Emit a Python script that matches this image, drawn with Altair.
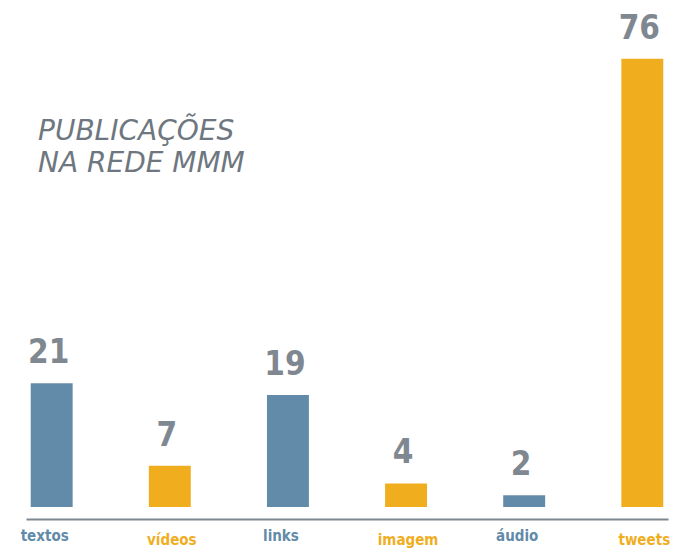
import json
import altair as alt
import pandas as pd

categories = ["textos", "vídeos", "links", "imagem", "áudio", "tweets"]
values = [21, 7, 19, 4, 2, 76]
groups = ["azul", "laranja", "azul", "laranja", "azul", "laranja"]
title_lines = ["PUBLICAÇÕES", "NA REDE MMM"]

BLUE = "#628aa9"
ORANGE = "#f0ae1f"
GRAY = "#7f8891"
TITLE_GRAY = "#6e7780"
COND_FONT = "DejaVu Sans Condensed, sans-serif"

df = pd.DataFrame({"cat": categories, "v": values, "g": groups})
orange_cats = [c for c, g in zip(categories, groups) if g == "laranja"]
test = "indexof(" + json.dumps(orange_cats, ensure_ascii=False) + ", datum.value) >= 0"

x = alt.X(
    "cat:N",
    sort=categories,
    scale=alt.Scale(paddingInner=0.645, paddingOuter=0.04),
    axis=alt.Axis(
        title=None,
        domainColor=GRAY,
        domainWidth=2,
        ticks=False,
        tickSize=0,
        labelAngle=0,
        labelFont=COND_FONT,
        labelFontSize=15,
        labelFontWeight="bold",
        labelColor={"condition": {"test": test, "value": ORANGE}, "value": BLUE},
        labelBaseline="alphabetic",
        labelPadding={"condition": {"test": test, "value": 25}, "value": 21},
        labelOffset={"condition": {"test": test, "value": 2}, "value": -7},
        offset=12,
    ),
)
y = alt.Y("v:Q", scale=alt.Scale(domain=[0, 84.6]), axis=None)

base = alt.Chart(df).encode(x=x, y=y)

bars = base.mark_bar().encode(
    color=alt.Color(
        "g:N",
        scale=alt.Scale(domain=["azul", "laranja"], range=[BLUE, ORANGE]),
        legend=None,
    )
)

nums = base.mark_text(
    dy=-20,
    dx=-3,
    baseline="alphabetic",
    font=COND_FONT,
    fontSize=33,
    fontWeight="bold",
    color=GRAY,
).encode(text="v:Q")

title = (
    alt.Chart(pd.DataFrame({"t": ["\n".join(title_lines)]}))
    .mark_text(
        align="left",
        baseline="alphabetic",
        lineBreak="\n",
        lineHeight=32,
        font="DejaVu Sans",
        fontStyle="italic",
        fontWeight=200,
        fontSize=28,
        color=TITLE_GRAY,
    )
    .encode(text="t:N", x=alt.value(12), y=alt.value(132))
)

chart = (
    alt.layer(bars, nums, title)
    .properties(
        width=642,
        height=499,
        padding={"left": 18, "top": 0, "right": 12, "bottom": 42},
        autosize="none",
    )
    .configure_view(stroke=None)
)

chart.save("out.html", embed_options={"renderer": "svg", "actions": False})
